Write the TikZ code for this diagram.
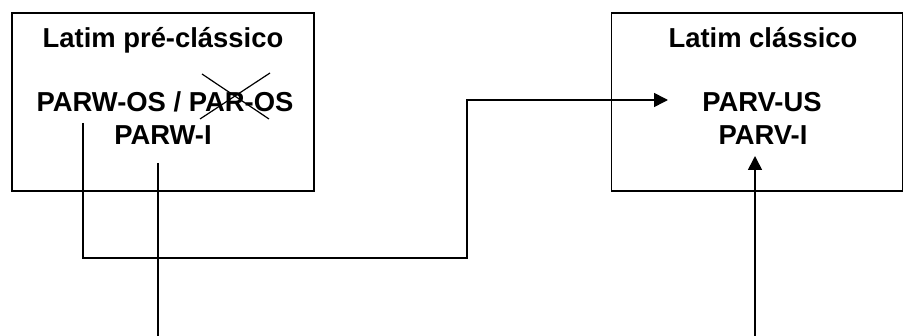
\documentclass[tikz,border=0pt]{standalone}
\usepackage{fontspec}
\setmainfont{Liberation Sans}
\usetikzlibrary{arrows.meta, positioning}

\begin{document}
\begin{tikzpicture}[
  x=1pt, y=-1pt,
  font=\fontsize{27.4}{32}\selectfont\bfseries,
  caixa/.style={draw=black, line width=1.6pt, minimum width=302pt, minimum height=178pt,
                inner sep=0pt},
  texto/.style={anchor=base, inner sep=0pt},
  linha/.style={draw=black, line width=1.6pt},
  seta/.style={draw=black, line width=1.6pt, -{Triangle[length=14pt,width=14pt]}}
]
\useasboundingbox (0,0) rectangle (903,336);

\node[caixa] (prebox) at (163,102) {};
\node[caixa, minimum width=291pt] (clbox) at (757,102) {};

\node[texto] (pretit) at (163,48)  {Latim pré-clássico};
\node[texto] (parwos) at (165,112) {PARW-OS / PAR-OS};
\node[texto] (parwi)  at (163,145) {PARW-I};

\node[texto] (cltit)  at (763,48)  {Latim clássico};
\node[texto] (parvus) at (762,112) {PARV-US};
\node[texto] (parvi)  at (763,145) {PARV-I};

% risco sobre PAR
\draw[line width=1.2pt] (200,119) -- (270,73);
\draw[line width=1.2pt] (202,74) -- (269,119);

\coordinate (ini1) at (83,123);
\coordinate (fim1) at (668,100);
\coordinate (ini2) at (158,163);
\coordinate (baixo2) at (158,336);
\coordinate (baixo3) at (755,336);
\coordinate (fim3) at (755,156);

\draw[seta] (ini1) -- (83,258) -- (467,258) -- (467,100) -- (fim1);
\draw[linha] (ini2) -- (baixo2);
\draw[seta] (baixo3) -- (fim3);

\end{tikzpicture}
\end{document}
